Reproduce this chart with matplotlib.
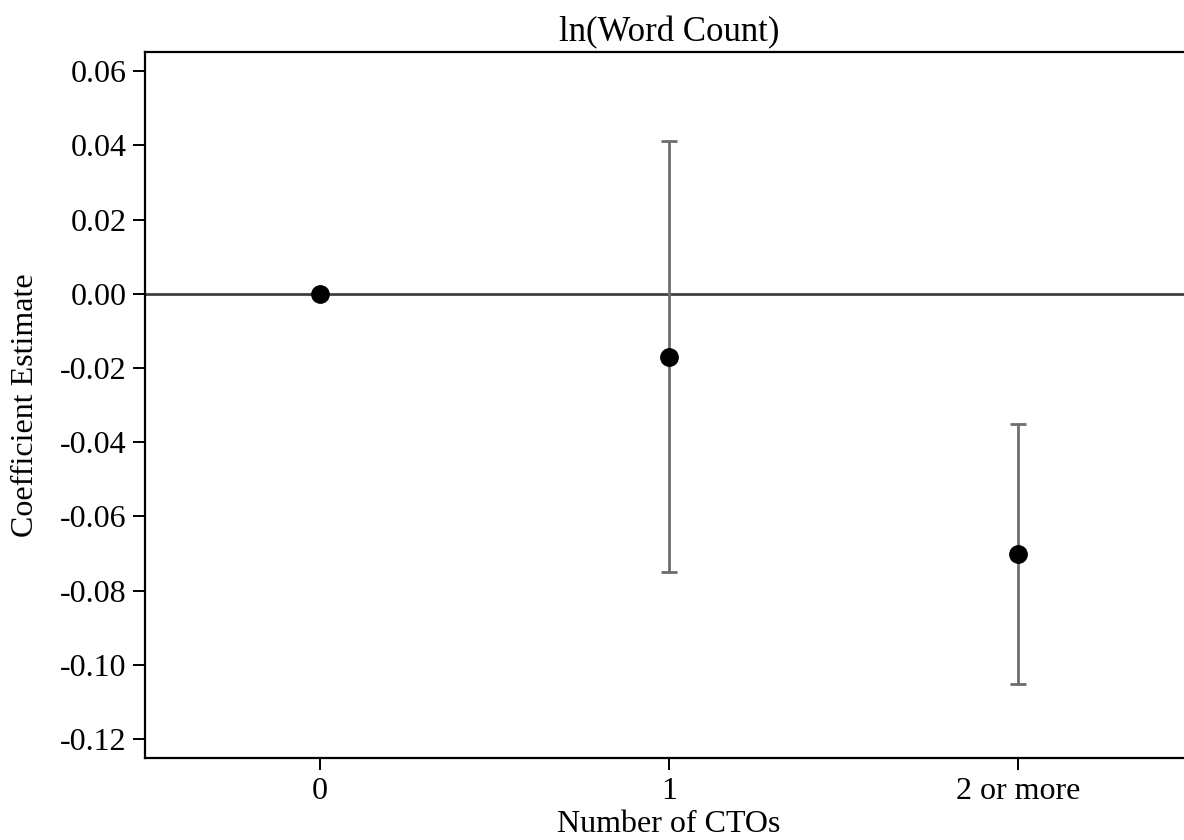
import matplotlib
matplotlib.use("Agg")
import matplotlib.pyplot as plt

# coefficient estimates by number of CTOs (reference group = 0)
categories = ["0", "1", "2 or more"]
coef = [0.0, -0.0169, -0.0701]
ci_low = [0.0, -0.0749, -0.1052]
ci_high = [0.0, 0.0413, -0.0350]
yticks = [0.06, 0.04, 0.02, 0.00, -0.02, -0.04, -0.06, -0.08, -0.10, -0.12]

plt.rcParams['font.family'] = ['Liberation Serif', 'DejaVu Serif']

fig = plt.figure(figsize=(11.84, 8.4), dpi=100)
ax = fig.add_axes([0.1225, 0.0976, 0.8847, 0.8405])

xs = list(range(len(categories)))

# zero reference line
ax.axhline(0, color='#404040', lw=2.0, zorder=1)

# confidence intervals (skip the reference category with no interval)
for x, lo, hi in zip(xs, ci_low, ci_high):
    if lo == hi:
        continue
    ax.errorbar([x], [(lo + hi) / 2], yerr=[[(hi - lo) / 2], [(hi - lo) / 2]],
                fmt='none', ecolor='#6e6e6e', elinewidth=2.0, capsize=6,
                capthick=2.0, zorder=2)

ax.plot(xs, coef, 'o', color='black', markersize=12.5, zorder=3)

ax.set_xlim(-0.5, 2.5)
ax.set_ylim(-0.1251, 0.0652)
ax.set_xticks(xs)
ax.set_xticklabels(categories)
ax.set_yticks(yticks)
ax.set_yticklabels([f"{v:.2f}" for v in yticks])

for side in ['left', 'bottom', 'top']:
    ax.spines[side].set_linewidth(1.6)
    ax.spines[side].set_color('black')
ax.spines['right'].set_visible(False)

ax.tick_params(axis='both', direction='out', length=8.4, width=1.4,
               labelsize=23, pad=5)

ax.set_title("ln(Word Count)", fontsize=25, pad=8)
ax.set_xlabel("Number of CTOs", fontsize=23, labelpad=3)
ax.set_ylabel("Coefficient Estimate", fontsize=23, labelpad=14)

fig.savefig("out.png", dpi=100)
